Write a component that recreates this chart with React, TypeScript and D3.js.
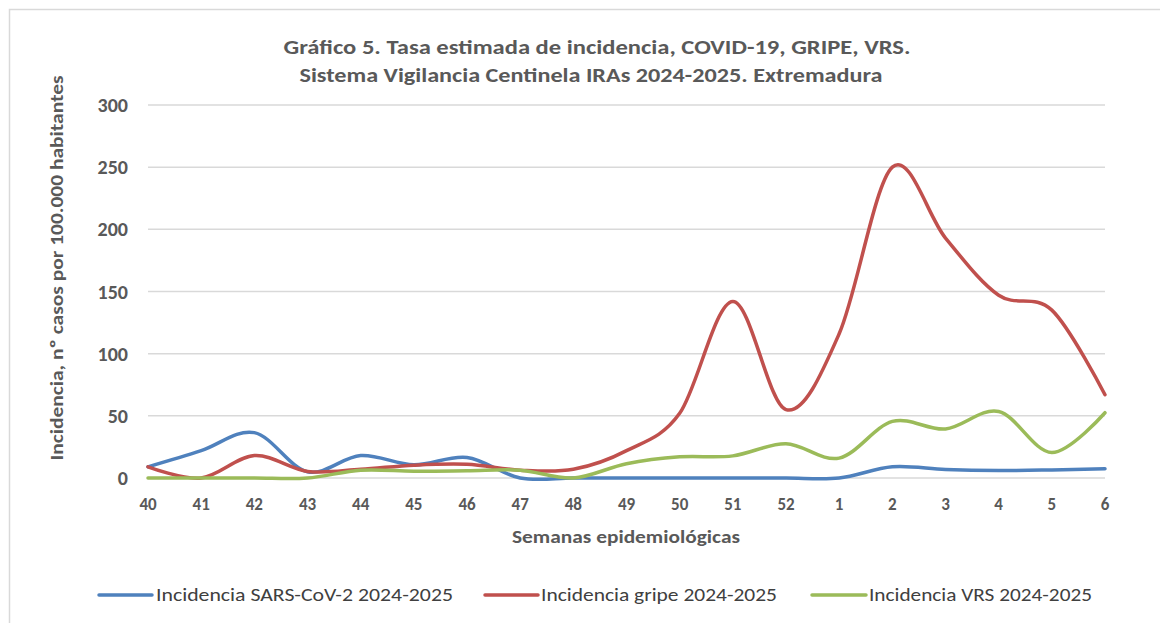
import React from "react";
import * as d3 from "d3";

const weeks = ["40","41","42","43","44","45","46","47","48","49","50","51","52","1","2","3","4","5","6"];
const covid = [9, 22, 36.5, 5, 18, 10.6, 16.5, 0, 0, 0, 0, 0, 0, 0, 9, 6.8, 6, 6.5, 7.4];
const gripe = [9, 0, 18, 5.3, 7, 10.3, 11, 6.3, 7, 22, 52, 142, 55, 116, 250, 193, 147, 135, 67];
const vrs = [0, 0, 0, 0, 6.3, 5.5, 5.8, 6.3, 0, 11.5, 17, 17.8, 27.5, 16, 45.5, 39.4, 53.5, 20.5, 52.5];
const yTicks = [0, 50, 100, 150, 200, 250, 300];

const seriesNames = ["Incidencia SARS-CoV-2 2024-2025", "Incidencia gripe 2024-2025", "Incidencia VRS 2024-2025"];
const seriesColors = ["#4F81BD", "#C0504D", "#9BBB59"];

const FONT = "Carlito, Calibri, Lato, 'Open Sans', sans-serif";
const TXT = "#595959";

export default function App() {
  const x = d3.scalePoint<string>().domain(weeks).range([148, 1105]);
  const y = d3.scaleLinear().domain([0, 300]).range([478, 105]);
  const line = d3
    .line<number>()
    .x((_, i) => x(weeks[i]) as number)
    .y((d) => y(d))
    .curve(d3.curveCardinal.tension(0));
  const series = [covid, gripe, vrs];
  const legend = [
    { x1: 99, x2: 152, tx: 156, w: 297 },
    { x1: 485, x2: 538, tx: 541, w: 236 },
    { x1: 812, x2: 866, tx: 869, w: 223 },
  ];
  return (
    <svg width={1160} height={623} style={{ position: "absolute", left: 0, top: 0 }} fontFamily={FONT}>
      <rect x={0} y={0} width={1160} height={623} fill="#fff" />
      <path d="M9.5,640 L9.5,9.5 L1170,9.5" fill="none" stroke="#d9d9d9" strokeWidth={1.5} />
      <g fontWeight="bold" fill={TXT} textAnchor="middle" fontSize={21}>
        <text x={597} y={54} textLength={627} lengthAdjust="spacingAndGlyphs">Gráfico 5. Tasa estimada de incidencia, COVID-19, GRIPE, VRS.</text>
        <text x={591} y={82} textLength={583} lengthAdjust="spacingAndGlyphs">Sistema Vigilancia Centinela IRAs 2024-2025. Extremadura</text>
      </g>
      {yTicks.map((t) => (
        <g key={t}>
          <line x1={148} x2={1105} y1={y(t)} y2={y(t)} stroke="#d9d9d9" strokeWidth={1.5} />
          <text x={128} y={y(t) + 7} textAnchor="end" fontSize={20} fontWeight="bold" fill={TXT}>{t}</text>
        </g>
      ))}
      {weeks.map((w) => (
        <text key={w} x={x(w)} y={510} textAnchor="middle" fontSize={17} fontWeight="bold" fill={TXT}>{w}</text>
      ))}
      <text x={626} y={543} textAnchor="middle" fontSize={19} fontWeight="bold" fill={TXT} textLength={228} lengthAdjust="spacingAndGlyphs">Semanas epidemiológicas</text>
      <text transform="translate(63,268) rotate(-90)" textAnchor="middle" fontSize={19} fontWeight="bold" fill={TXT} textLength={385} lengthAdjust="spacingAndGlyphs">Incidencia, nº casos por 100.000 habitantes</text>
      {series.map((s, i) => (
        <path key={i} d={line(s) || ""} fill="none" stroke={seriesColors[i]} strokeWidth={3.5} strokeLinecap="round" strokeLinejoin="round" />
      ))}
      {legend.map((l, i) => (
        <g key={i}>
          <line x1={l.x1} x2={l.x2} y1={595} y2={595} stroke={seriesColors[i]} strokeWidth={3.5} strokeLinecap="round" />
          <text x={l.tx} y={601} fontSize={19} fill="#404040" fontWeight={500} textLength={l.w} lengthAdjust="spacingAndGlyphs">{seriesNames[i]}</text>
        </g>
      ))}
    </svg>
  );
}
